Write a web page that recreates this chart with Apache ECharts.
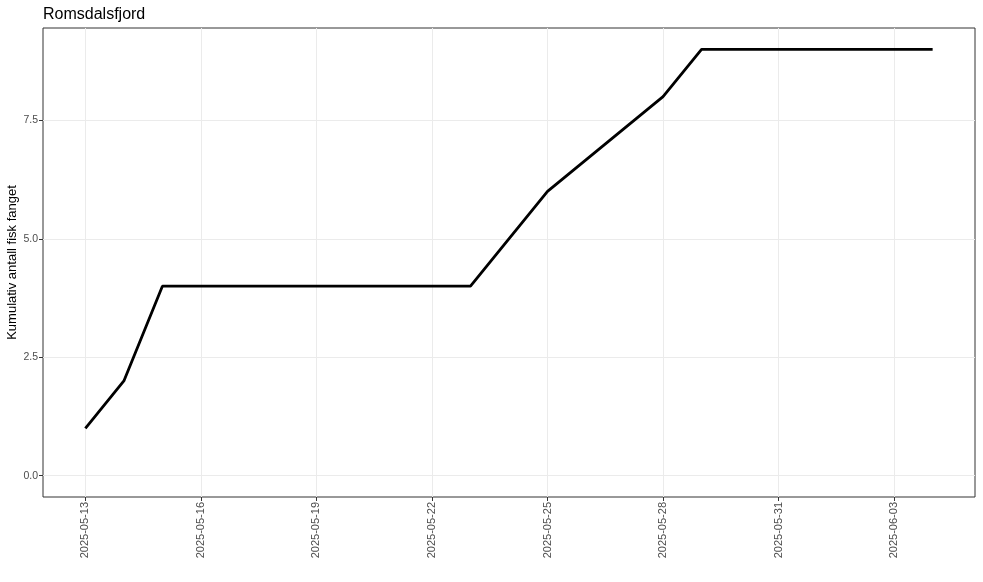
<!DOCTYPE html>
<html>
<head>
<meta charset="utf-8">
<script src="https://cdn.jsdelivr.net/npm/echarts@6/dist/echarts.min.js"></script>
<style>
html,body{margin:0;padding:0;background:#fff;}
#chart{width:983px;height:582px;}
</style>
</head>
<body>
<div id="chart"></div>
<script>
// Data
const dates = ['2025-05-13','2025-05-14','2025-05-15','2025-05-23','2025-05-25','2025-05-28','2025-05-29','2025-06-04'];
const counts = [1, 2, 4, 4, 6, 8, 9, 9];
const xTicks = ['2025-05-13','2025-05-16','2025-05-19','2025-05-22','2025-05-25','2025-05-28','2025-05-31','2025-06-03'];
const yTicks = [0, 2.5, 5, 7.5];
const titleText = 'Romsdalsfjord';
const yName = 'Kumulativ antall fisk fanget';

const toMs = s => Date.parse(s + 'T00:00:00Z');
const xMin0 = toMs(dates[0]), xMax0 = toMs(dates[dates.length - 1]);
const xPad = (xMax0 - xMin0) * 0.05;
const yMin0 = 0, yMax0 = Math.max(...counts);
const yPad = (yMax0 - yMin0) * 0.05;

const pad2 = n => (n < 10 ? '0' : '') + n;
const fmtDate = v => { const d = new Date(v); return d.getUTCFullYear() + '-' + pad2(d.getUTCMonth() + 1) + '-' + pad2(d.getUTCDate()); };

const chart = echarts.init(document.getElementById('chart'), null, {renderer: 'canvas'});
chart.setOption({
  animation: false,
  backgroundColor: '#ffffff',
  title: {
    text: titleText, left: 43, top: 7, padding: 0,
    textStyle: {fontFamily: 'Liberation Sans', fontSize: 16, fontWeight: 'normal', color: '#000'}
  },
  grid: {left: 43, right: 8, top: 28, bottom: 85, outerBoundsMode: 'none', containLabel: false,
         show: true, borderColor: '#333333', borderWidth: 1, backgroundColor: 'transparent'},
  xAxis: {
    type: 'value',
    min: xMin0 - xPad, max: xMax0 + xPad,
    axisLine: {show: false, onZero: false},
    splitLine: {show: false},
    axisTick: {show: true, length: 4, customValues: xTicks.map(toMs), lineStyle: {color: '#333333'}},
    axisLabel: {
      customValues: xTicks.map(toMs), rotate: 90, margin: 5,
      formatter: v => fmtDate(v),
      fontFamily: 'Liberation Sans', fontSize: 11, color: '#4d4d4d'
    }
  },
  yAxis: {
    type: 'value',
    min: yMin0 - yPad, max: yMax0 + yPad,
    name: yName, nameLocation: 'middle', nameGap: 24, nameMoveOverlap: false,
    nameTextStyle: {fontFamily: 'Liberation Sans', fontSize: 13, color: '#000'},
    axisLine: {show: false, onZero: false},
    splitLine: {show: false},
    axisTick: {show: true, length: 4, customValues: yTicks, lineStyle: {color: '#333333'}},
    axisLabel: {
      customValues: yTicks, margin: 5,
      formatter: v => Number(v).toFixed(1),
      fontFamily: 'Liberation Sans', fontSize: 10.5, color: '#4d4d4d'
    }
  },
  series: [
    {
      type: 'line', z: 1, silent: true,
      data: dates.map((d, i) => [toMs(d), counts[i]]),
      showSymbol: false, lineStyle: {opacity: 0}, tooltip: {show: false},
      markLine: {
        z: 0, silent: true, symbol: ['none', 'none'], label: {show: false},
        lineStyle: {color: '#ebebeb', width: 1, type: 'solid'},
        emphasis: {disabled: true},
        data: xTicks.map(t => ({xAxis: toMs(t)})).concat(yTicks.map(v => ({yAxis: v})))
      }
    },
    {
      type: 'line', z: 3,
      data: dates.map((d, i) => [toMs(d), counts[i]]),
      showSymbol: false, symbol: 'none',
      lineStyle: {color: '#000000', width: 2.8},
      itemStyle: {color: '#000'}
    }
  ]
});
</script>
</body>
</html>
